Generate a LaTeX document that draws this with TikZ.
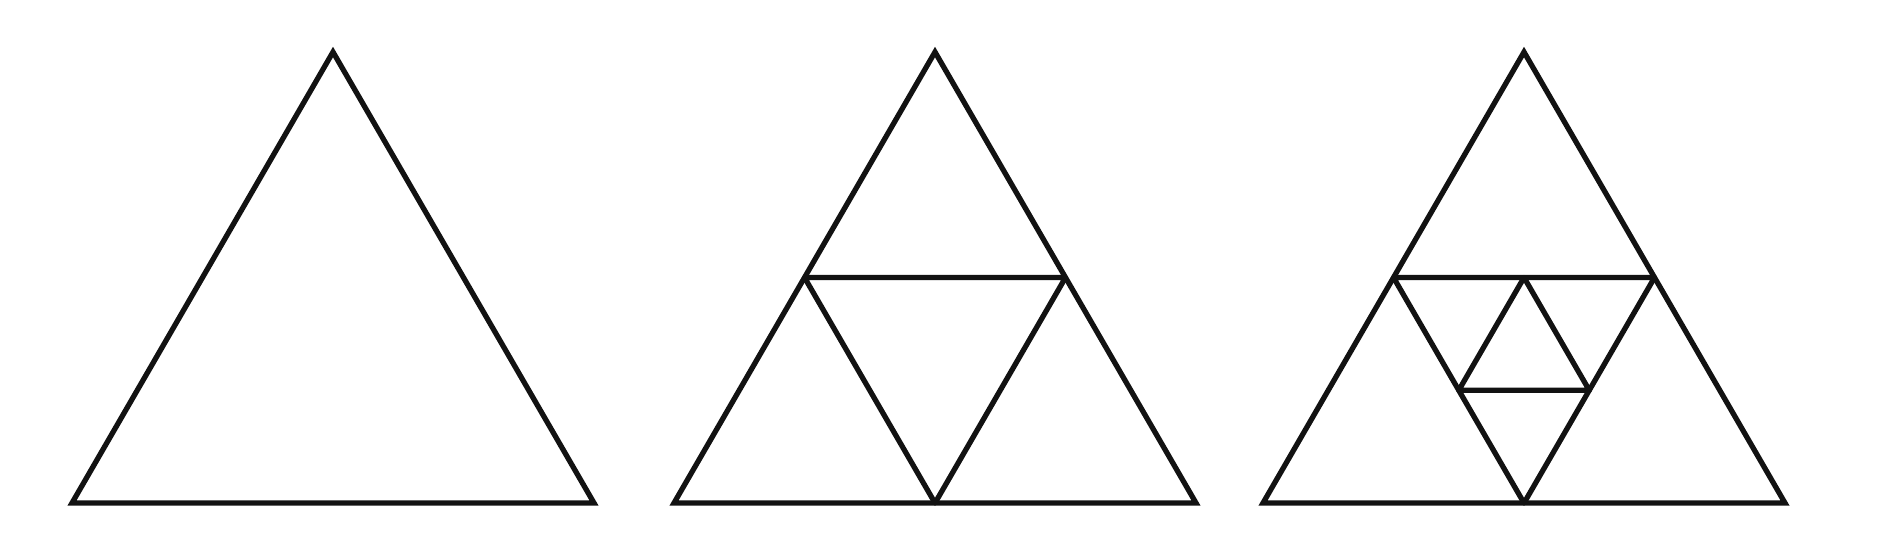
\documentclass[tikz,border=0pt]{standalone}
\usetikzlibrary{calc}
\tikzstyle{edge} = [line width=1.5pt, draw=black!93, line join=miter]
\tikzstyle{inner} = [line width=1.5pt, draw=black!93, line join=round]
\begin{document}
\begin{tikzpicture}[x=0.01cm, y=-0.01cm]
    \useasboundingbox (0,0) rectangle (1885,544);
    % Level 0 triangle
    \coordinate (T0top) at (333,52);
    \coordinate (T0left) at (72,503);
    \coordinate (T0right) at (594,503);
    \draw [edge] (T0top) -- (T0left) -- (T0right) -- cycle;
    % Level 1 triangle
    \coordinate (T1top) at (935,52);
    \coordinate (T1left) at (674,503);
    \coordinate (T1right) at (1196,503);
    \coordinate (T1a) at ($(T1top)!0.5!(T1left)$);
    \coordinate (T1b) at ($(T1top)!0.5!(T1right)$);
    \coordinate (T1c) at ($(T1left)!0.5!(T1right)$);
    \draw [edge] (T1top) -- (T1left) -- (T1right) -- cycle;
    \draw [inner] (T1a) -- (T1b) -- (T1c) -- cycle;
    % Level 2 triangle
    \coordinate (T2top) at (1524,52);
    \coordinate (T2left) at (1263,503);
    \coordinate (T2right) at (1785,503);
    \coordinate (T2a) at ($(T2top)!0.5!(T2left)$);
    \coordinate (T2b) at ($(T2top)!0.5!(T2right)$);
    \coordinate (T2c) at ($(T2left)!0.5!(T2right)$);
    \coordinate (T2d) at ($(T2a)!0.5!(T2b)$);
    \coordinate (T2e) at ($(T2a)!0.5!(T2c)$);
    \coordinate (T2f) at ($(T2b)!0.5!(T2c)$);
    \draw [edge] (T2top) -- (T2left) -- (T2right) -- cycle;
    \draw [inner] (T2a) -- (T2b) -- (T2c) -- cycle;
    \draw [inner] (T2d) -- (T2e) -- (T2f) -- cycle;
\end{tikzpicture}
\end{document}
